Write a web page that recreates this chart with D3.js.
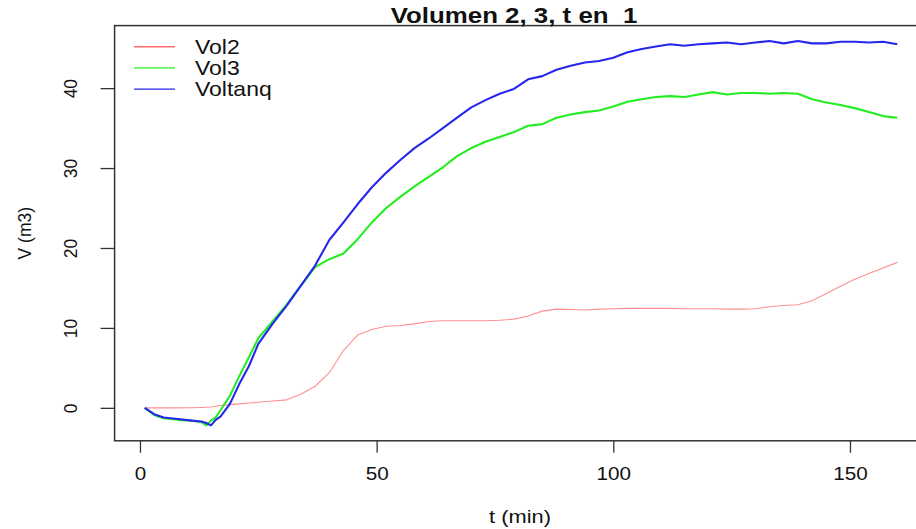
<!DOCTYPE html>
<html lang="es">
<head>
<meta charset="UTF-8">
<title>Volumen 2, 3, t en 1</title>
<script src="https://d3js.org/d3.v7.min.js"></script>
<style>
  body { margin: 0; background: #fff; }
  text { font-family: "Liberation Sans", Arial, sans-serif; fill: #111; }
</style>
</head>
<body>
<svg width="916" height="529"></svg>
<script>
// tiempo (min)
const tiempo = [1, 3, 5, 8, 11, 13, 14, 15, 16, 17, 19, 21, 23, 25, 28, 31, 34, 37, 40, 43, 46, 49,
  52, 55, 58, 61, 64, 67, 70, 73, 76, 79, 82, 85, 88, 91, 94, 97, 100, 103, 106, 109, 112,
  115, 118, 121, 124, 127, 130, 133, 136, 139, 142, 145, 148, 151, 154, 157, 160];

const vol2 = [0, 0, 0, 0, 0.02, 0.05, 0.07, 0.1, 0.2, 0.3, 0.4, 0.5, 0.6, 0.7, 0.85, 1.0, 1.7, 2.7, 4.4, 7.2, 9.1, 9.8,
  10.2, 10.3, 10.5, 10.8, 10.9, 10.9, 10.9, 10.9, 10.95, 11.1, 11.5, 12.1, 12.35, 12.3, 12.25, 12.35, 12.4, 12.45, 12.45, 12.45, 12.45,
  12.4, 12.4, 12.4, 12.35, 12.35, 12.4, 12.65, 12.8, 12.9, 13.4, 14.3, 15.2, 16.1, 16.8, 17.5, 18.2];

const vol3 = [0, -0.9, -1.3, -1.5, -1.6, -1.8, -2.2, -1.6, -1.2, -0.3, 1.5, 4.0, 6.3, 8.7, 10.8, 12.9, 15.3, 17.6, 18.6, 19.3, 21.1, 23.2,
  25.0, 26.4, 27.7, 28.9, 30.1, 31.5, 32.5, 33.3, 33.9, 34.5, 35.3, 35.5, 36.3, 36.7, 37.0, 37.2, 37.7, 38.3, 38.6, 38.9, 39.0,
  38.9, 39.2, 39.5, 39.2, 39.4, 39.4, 39.3, 39.4, 39.3, 38.6, 38.2, 37.9, 37.5, 37.0, 36.5, 36.3];

const voltanq = [0, -0.8, -1.2, -1.4, -1.6, -1.7, -1.9, -2.2, -1.5, -1.1, 0.5, 3.0, 5.2, 8.0, 10.5, 12.8, 15.3, 17.8, 21.0, 23.2, 25.5, 27.6,
  29.4, 31.0, 32.5, 33.7, 35.0, 36.3, 37.6, 38.5, 39.3, 39.9, 41.1, 41.5, 42.3, 42.8, 43.2, 43.4, 43.8, 44.5, 44.9, 45.2, 45.5,
  45.3, 45.5, 45.6, 45.7, 45.5, 45.7, 45.9, 45.6, 45.9, 45.6, 45.6, 45.8, 45.8, 45.7, 45.8, 45.5];

const seriesNames = ["Vol2", "Vol3", "Voltanq"];
const xTicks = [0, 50, 100, 150];
const yTicks = [0, 10, 20, 30, 40];

const svg = d3.select("svg");
const plotLeft = 114.6, plotRight = 927.4, plotTop = 25.6, plotBottom = 440.8;
const stretch = "scale(1.15,1)"; // the picture is a bit wider than tall

// R style: 4% padding on each side of the data range
const pad = ([a, b]) => [a - (b - a) * 0.04, b + (b - a) * 0.04];
const x = d3.scaleLinear().domain(pad(d3.extent(tiempo))).range([plotLeft, plotRight]);
const y = d3.scaleLinear()
  .domain(pad(d3.extent(vol2.concat(vol3, voltanq))))
  .range([plotBottom, plotTop]);

const series = [
  { name: seriesNames[0], values: vol2, color: "#ff4444", width: 1.1, opacity: 0.6 },
  { name: seriesNames[1], values: vol3, color: "#22ee22", width: 2.1, opacity: 1 },
  { name: seriesNames[2], values: voltanq, color: "#2626ee", width: 2.1, opacity: 1 }
];

const line = d3.line().x((d, i) => x(tiempo[i])).y(d => y(d));

svg.selectAll("path.serie")
  .data(series)
  .join("path")
  .attr("class", "serie")
  .attr("d", d => line(d.values))
  .attr("fill", "none")
  .attr("stroke", d => d.color)
  .attr("stroke-width", d => d.width)
  .attr("stroke-opacity", d => d.opacity)
  .attr("stroke-linejoin", "round");

// box
svg.append("rect")
  .attr("x", plotLeft).attr("y", plotTop)
  .attr("width", plotRight - plotLeft).attr("height", plotBottom - plotTop)
  .attr("fill", "none").attr("stroke", "#333").attr("stroke-width", 1.5);

// x axis
const xAxis = svg.append("g")
  .attr("transform", `translate(0,${plotBottom})`)
  .call(d3.axisBottom(x).tickValues(xTicks).tickSize(12).tickPadding(14));
xAxis.select(".domain").remove();
xAxis.selectAll("line").attr("stroke", "#333").attr("stroke-width", 1.3);
xAxis.selectAll("text").attr("font-size", 18).attr("fill", "#111")
  .attr("transform", stretch)
  .style("font-family", "'Liberation Sans', Arial, sans-serif");

// y axis, labels parallel to the axis
const yAxis = svg.append("g")
  .attr("transform", `translate(${plotLeft},0)`)
  .call(d3.axisLeft(y).tickValues(yTicks).tickSize(14).tickPadding(0));
yAxis.select(".domain").remove();
yAxis.selectAll("line").attr("stroke", "#333").attr("stroke-width", 1.3);
yAxis.selectAll("text").remove();
yAxis.selectAll("g.tick").append("text")
  .attr("transform", "translate(-38,0) rotate(-90)")
  .attr("text-anchor", "middle")
  .attr("font-size", 17.5)
  .text(d => d);

// titles
svg.append("text")
  .attr("transform", `translate(514,23) ${stretch}`)
  .attr("text-anchor", "middle")
  .attr("font-size", 22.5).attr("font-weight", "bold")
  .style("white-space", "pre")
  .text("Volumen 2, 3, t en  1");

svg.append("text")
  .attr("transform", `translate(520,523) ${stretch}`)
  .attr("text-anchor", "middle")
  .attr("font-size", 19)
  .text("t (min)");

svg.append("text")
  .attr("transform", `translate(31,${(plotTop + plotBottom) / 2}) rotate(-90)`)
  .attr("text-anchor", "middle")
  .attr("font-size", 17.5)
  .text("V (m3)");

// legend
const legend = svg.append("g").selectAll("g")
  .data(series)
  .join("g")
  .attr("transform", (d, i) => `translate(134,${46.7 + i * 21.2})`);
legend.append("line")
  .attr("x1", 0).attr("x2", 41)
  .attr("stroke", d => d.color)
  .attr("stroke-width", 1.4)
  .attr("stroke-opacity", d => d.name === "Vol2" ? 0.8 : 1);
legend.append("text")
  .attr("transform", `translate(61,0) ${stretch}`)
  .attr("dy", "0.36em")
  .attr("font-size", 20)
  .text(d => d.name);
</script>
</body>
</html>
